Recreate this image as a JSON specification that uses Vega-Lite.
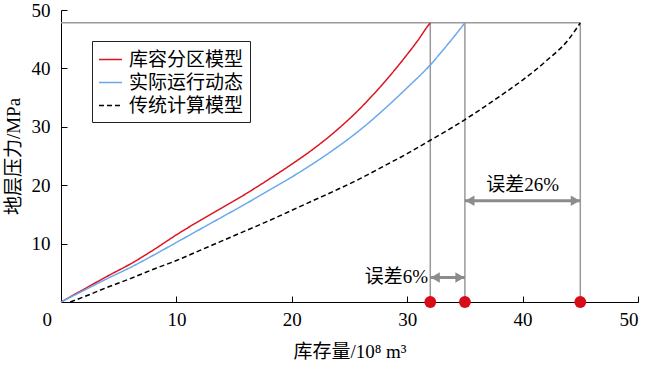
{
  "$schema": "https://vega.github.io/schema/vega-lite/v6.json",
  "width": 577,
  "height": 292,
  "autosize": {"type": "none"},
  "padding": {"left": 61, "top": 10, "right": 12, "bottom": 64},
  "background": "white",
  "config": {
    "view": {"stroke": null},
    "font": "Liberation Serif, Noto Sans CJK SC",
    "axis": {
      "domainColor": "#000",
      "domainWidth": 1,
      "tickColor": "#000",
      "tickWidth": 1,
      "tickSize": -6,
      "grid": false,
      "labelFont": "Liberation Serif",
      "labelFontSize": 19,
      "labelColor": "#000",
      "titleFont": "Liberation Serif, Noto Sans CJK SC",
      "titleFontSize": 19,
      "titleFontWeight": "normal",
      "titleColor": "#000"
    }
  },
  "datasets": {
    "curves": [
      {"series": "库容分区模型", "x": 0, "y": 0},
      {"series": "库容分区模型", "x": 2, "y": 2.2},
      {"series": "库容分区模型", "x": 4, "y": 4.4},
      {"series": "库容分区模型", "x": 6, "y": 6.5},
      {"series": "库容分区模型", "x": 8, "y": 8.9},
      {"series": "库容分区模型", "x": 10, "y": 11.5},
      {"series": "库容分区模型", "x": 12, "y": 13.9},
      {"series": "库容分区模型", "x": 14, "y": 16.2},
      {"series": "库容分区模型", "x": 16, "y": 18.5},
      {"series": "库容分区模型", "x": 18, "y": 21.0},
      {"series": "库容分区模型", "x": 20, "y": 23.6},
      {"series": "库容分区模型", "x": 22, "y": 26.4},
      {"series": "库容分区模型", "x": 24, "y": 29.6},
      {"series": "库容分区模型", "x": 26, "y": 33.3},
      {"series": "库容分区模型", "x": 28, "y": 37.6},
      {"series": "库容分区模型", "x": 29.4, "y": 40.9},
      {"series": "库容分区模型", "x": 30, "y": 42.4},
      {"series": "库容分区模型", "x": 31, "y": 45.0},
      {"series": "库容分区模型", "x": 31.8, "y": 47.3},
      {"series": "库容分区模型", "x": 32, "y": 47.8},
      {"series": "实际运行动态", "x": 0, "y": 0},
      {"series": "实际运行动态", "x": 2, "y": 2.0},
      {"series": "实际运行动态", "x": 4, "y": 4.0},
      {"series": "实际运行动态", "x": 6, "y": 5.9},
      {"series": "实际运行动态", "x": 8, "y": 8.0},
      {"series": "实际运行动态", "x": 10, "y": 10.2},
      {"series": "实际运行动态", "x": 12, "y": 12.4},
      {"series": "实际运行动态", "x": 14, "y": 14.6},
      {"series": "实际运行动态", "x": 16, "y": 16.8},
      {"series": "实际运行动态", "x": 18, "y": 19.1},
      {"series": "实际运行动态", "x": 20, "y": 21.4},
      {"series": "实际运行动态", "x": 22, "y": 23.9},
      {"series": "实际运行动态", "x": 24, "y": 26.6},
      {"series": "实际运行动态", "x": 26, "y": 29.6},
      {"series": "实际运行动态", "x": 28, "y": 33.0},
      {"series": "实际运行动态", "x": 30, "y": 36.7},
      {"series": "实际运行动态", "x": 32, "y": 40.6},
      {"series": "实际运行动态", "x": 33, "y": 42.9},
      {"series": "实际运行动态", "x": 34, "y": 45.3},
      {"series": "实际运行动态", "x": 35, "y": 47.8},
      {"series": "传统计算模型", "x": 0.8, "y": 0},
      {"series": "传统计算模型", "x": 2, "y": 0.9},
      {"series": "传统计算模型", "x": 4, "y": 2.5},
      {"series": "传统计算模型", "x": 6, "y": 4.0},
      {"series": "传统计算模型", "x": 8, "y": 5.6},
      {"series": "传统计算模型", "x": 10, "y": 7.1},
      {"series": "传统计算模型", "x": 12, "y": 8.8},
      {"series": "传统计算模型", "x": 14, "y": 10.5},
      {"series": "传统计算模型", "x": 16, "y": 12.2},
      {"series": "传统计算模型", "x": 18, "y": 13.9},
      {"series": "传统计算模型", "x": 20, "y": 15.7},
      {"series": "传统计算模型", "x": 22, "y": 17.5},
      {"series": "传统计算模型", "x": 24, "y": 19.3},
      {"series": "传统计算模型", "x": 26, "y": 21.2},
      {"series": "传统计算模型", "x": 28, "y": 23.3},
      {"series": "传统计算模型", "x": 30, "y": 25.4},
      {"series": "传统计算模型", "x": 32, "y": 27.7},
      {"series": "传统计算模型", "x": 34, "y": 30.0},
      {"series": "传统计算模型", "x": 36, "y": 32.5},
      {"series": "传统计算模型", "x": 38, "y": 35.2},
      {"series": "传统计算模型", "x": 40, "y": 38.0},
      {"series": "传统计算模型", "x": 42, "y": 41.2},
      {"series": "传统计算模型", "x": 44, "y": 45.0},
      {"series": "传统计算模型", "x": 45, "y": 47.8}
    ],
    "rules": [
      {"x": 0, "x2": 45, "y": 47.8, "y2": 47.8},
      {"x": 32, "x2": 32, "y": 0, "y2": 47.8},
      {"x": 35, "x2": 35, "y": 0, "y2": 47.8},
      {"x": 45, "x2": 45, "y": 0, "y2": 47.8}
    ],
    "arrows": [
      {"x": 35, "x2": 45, "y": 17.35},
      {"x": 32, "x2": 35, "y": 4.2}
    ],
    "headsLeft": [
      {"x": 35, "y": 17.35},
      {"x": 32, "y": 4.2}
    ],
    "headsRight": [
      {"x": 45, "y": 17.35},
      {"x": 35, "y": 4.2}
    ],
    "labelsCenter": [
      {"x": 40, "y": 20.0, "text": "误差26%"}
    ],
    "labelsRight": [
      {"x": 31.8, "y": 4.3, "text": "误差6%"}
    ],
    "dots": [
      {"x": 32, "y": 0},
      {"x": 35, "y": 0},
      {"x": 45, "y": 0}
    ]
  },
  "encoding": {
    "x": {
      "field": "x",
      "type": "quantitative",
      "scale": {"domain": [0, 50], "nice": false, "zero": false},
      "axis": {
        "values": [0, 10, 20, 30, 40, 50],
        "labelPadding": 14,
        "labelOffset": {"condition": {"test": "datum.value === 0", "value": -19}, "value": 0},
        "title": "库存量/10⁸ m³",
        "titlePadding": 13
      }
    },
    "y": {
      "field": "y",
      "type": "quantitative",
      "scale": {"domain": [0, 50], "nice": false, "zero": false},
      "axis": {
        "values": [10, 20, 30, 40, 50],
        "labelPadding": 17,
        "title": "地层压力/MPa",
        "titlePadding": 8
      }
    }
  },
  "layer": [
    {
      "data": {"name": "rules"},
      "mark": {"type": "rule", "color": "#9a9a9a", "strokeWidth": 1.5},
      "encoding": {
        "x2": {"field": "x2"},
        "y2": {"field": "y2"}
      }
    },
    {
      "data": {"name": "curves"},
      "mark": {"type": "line", "strokeWidth": 1.5, "interpolate": "monotone"},
      "encoding": {
        "color": {
          "field": "series",
          "type": "nominal",
          "scale": {"domain": ["库容分区模型", "实际运行动态", "传统计算模型"], "range": ["#dc1420", "#6aa8ec", "#000000"]},
          "legend": {
            "orient": "none",
            "legendX": 31,
            "legendY": 31,
            "title": null,
            "strokeColor": "#222",
            "fillColor": "#ffffff",
            "padding": 6,
            "symbolType": "stroke",
            "symbolSize": 529,
            "symbolStrokeWidth": 1.5,
            "labelFont": "Liberation Serif, Noto Sans CJK SC",
            "labelFontSize": 19,
            "labelColor": "#000",
            "rowPadding": 0,
            "labelOffset": 6
          }
        },
        "strokeDash": {
          "field": "series",
          "type": "nominal",
          "scale": {"domain": ["库容分区模型", "实际运行动态", "传统计算模型"], "range": [[1, 0], [1, 0], [5, 3]]}
        },
        "order": {"field": "x", "type": "quantitative"}
      }
    },
    {
      "data": {"name": "arrows"},
      "mark": {"type": "rule", "color": "#8c8c8c", "strokeWidth": 3},
      "encoding": {
        "x2": {"field": "x2"}
      }
    },
    {
      "data": {"name": "headsLeft"},
      "mark": {"type": "point", "shape": "triangle-left", "filled": true, "color": "#8c8c8c", "opacity": 1, "size": 110, "xOffset": 5},
      "encoding": {}
    },
    {
      "data": {"name": "headsRight"},
      "mark": {"type": "point", "shape": "triangle-right", "filled": true, "color": "#8c8c8c", "opacity": 1, "size": 110, "xOffset": -5},
      "encoding": {}
    },
    {
      "data": {"name": "labelsCenter"},
      "mark": {"type": "text", "align": "center", "baseline": "middle", "fontSize": 19, "font": "Liberation Serif, Noto Sans CJK SC", "color": "#000"},
      "encoding": {"text": {"field": "text"}}
    },
    {
      "data": {"name": "labelsRight"},
      "mark": {"type": "text", "align": "right", "baseline": "middle", "fontSize": 19, "font": "Liberation Serif, Noto Sans CJK SC", "color": "#000"},
      "encoding": {"text": {"field": "text"}}
    },
    {
      "data": {"name": "dots"},
      "mark": {"type": "point", "shape": "circle", "filled": true, "color": "#d80c18", "opacity": 1, "size": 140, "clip": false},
      "encoding": {}
    }
  ]
}
